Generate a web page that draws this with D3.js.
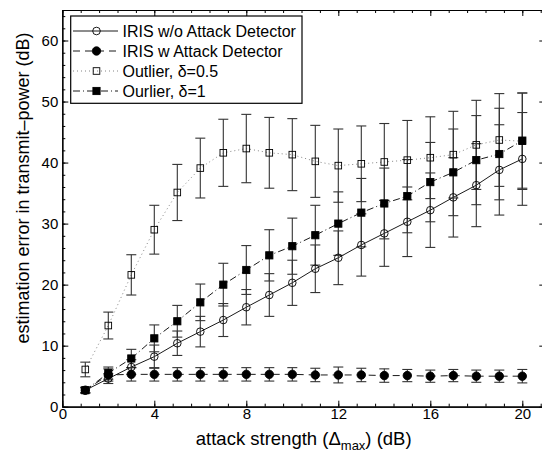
<!DOCTYPE html>
<html>
<head>
<meta charset="utf-8">
<script src="https://cdn.jsdelivr.net/npm/d3@7"></script>
<style>
  body { margin: 0; background: #fff; }
  svg { display: block; font-family: "Liberation Sans", Arial, Helvetica, sans-serif; }
</style>
</head>
<body>
<svg width="542" height="458"></svg>
<script>
// attack strength values (dB)
var strength = [1, 2, 3, 4, 5, 6, 7, 8, 9, 10, 11, 12, 13, 14, 15, 16, 17, 18, 19, 20];

// IRIS without attack detector
var irisNoDet = [2.7, 4.6, 6.5, 8.2, 10.4, 12.3, 14.2, 16.3, 18.3, 20.3, 22.6, 24.4, 26.5, 28.4, 30.3, 32.2, 34.3, 36.3, 38.8, 40.6];
var irisNoDetErr = [0.5, 0.8, 1.2, 1.9, 2.0, 2.5, 2.7, 2.9, 3.5, 3.7, 3.9, 4.4, 5.1, 5.4, 5.7, 6.1, 6.5, 6.8, 7.4, 7.6];

// IRIS with attack detector
var irisDet = [2.7, 5.2, 5.3, 5.3, 5.3, 5.3, 5.3, 5.3, 5.3, 5.3, 5.2, 5.2, 5.2, 5.1, 5.1, 5.0, 5.1, 5.0, 5.0, 5.0];
var irisDetErr = [0.4, 1.0, 1.1, 1.1, 1.1, 1.1, 1.1, 1.1, 1.1, 1.1, 1.1, 1.3, 1.1, 1.1, 1.0, 1.0, 1.0, 1.0, 1.0, 1.1];

// outlier, delta = 0.5
var outlierHalf = [6.1, 13.3, 21.6, 29.0, 35.1, 39.1, 41.6, 42.3, 41.6, 41.3, 40.2, 39.5, 39.8, 40.1, 40.4, 40.8, 41.3, 42.9, 43.7, 43.5];
var outlierHalfErr = [1.2, 2.2, 3.3, 4.0, 4.6, 4.9, 5.5, 5.6, 5.8, 5.9, 5.9, 6.0, 6.2, 6.3, 6.5, 6.7, 7.1, 7.3, 7.6, 7.9];

// outlier, delta = 1
var outlierOne = [2.7, 5.5, 7.9, 11.2, 14.0, 17.1, 20.0, 22.4, 24.8, 26.3, 28.1, 30.0, 31.8, 33.3, 34.5, 36.8, 38.4, 40.4, 41.4, 43.6];
var outlierOneErr = [0.4, 1.0, 1.5, 2.2, 2.6, 3.0, 3.5, 4.0, 4.2, 4.6, 4.9, 5.2, 5.6, 5.8, 6.0, 6.5, 7.1, 7.3, 7.5, 7.8];

var xMajor = [0, 4, 8, 12, 16, 20];
var yMajor = [0, 10, 20, 30, 40, 50, 60];

var svg = d3.select("svg"),
    pLeft = 62.3, pRight = 545.3, pTop = 10, pBottom = 406.7;

var x = d3.scaleLinear().domain([0, 21]).range([pLeft, pRight]);
var y = d3.scaleLinear().domain([0, 65]).range([pBottom, pTop]);

var xMinor = d3.range(0, 21, 0.8), yMinor = d3.range(0, 65, 2);

var series = [
  { name: "IRIS w/o Attack Detector", v: irisNoDet, e: irisNoDetErr, dash: null, lc: "#000", marker: "circle", fill: "none" },
  { name: "IRIS w Attack Detector", v: irisDet, e: irisDetErr, dash: "7,5", lc: "#000", marker: "circle", fill: "#000" },
  { name: "Outlier, \u03b4=0.5", v: outlierHalf, e: outlierHalfErr, dash: "1,3", lc: "#777", marker: "square", fill: "none" },
  { name: "Ourlier, \u03b4=1", v: outlierOne, e: outlierOneErr, dash: "7,3,1,3", lc: "#000", marker: "square", fill: "#000" }
];

// axes box with inward ticks
function axis(gen, ticks, size, fmt) {
  return gen.tickValues(ticks).tickSizeInner(-size).tickSizeOuter(0).tickFormat(fmt);
}
var none = function() { return ""; };

svg.append("g").attr("transform", "translate(0," + pBottom + ")").call(axis(d3.axisBottom(x), xMinor, 3, none));
svg.append("g").attr("transform", "translate(0," + pBottom + ")").call(axis(d3.axisBottom(x), xMajor, 6, d3.format("d")).tickPadding(2));
svg.append("g").attr("transform", "translate(0," + pTop + ")").call(axis(d3.axisTop(x), xMinor, 3, none));
svg.append("g").attr("transform", "translate(0," + pTop + ")").call(axis(d3.axisTop(x), xMajor, 6, none));
svg.append("g").attr("transform", "translate(" + pLeft + ",0)").call(axis(d3.axisLeft(y), yMinor, 3, none));
svg.append("g").attr("transform", "translate(" + pLeft + ",0)").call(axis(d3.axisLeft(y), yMajor, 6, d3.format("d")).tickPadding(4));
svg.append("g").attr("transform", "translate(" + pRight + ",0)").call(axis(d3.axisRight(y), yMinor, 3, none));
svg.append("g").attr("transform", "translate(" + pRight + ",0)").call(axis(d3.axisRight(y), yMajor, 6, none));

svg.selectAll(".domain").attr("stroke", "#000").attr("stroke-width", 1.2);
svg.selectAll(".tick line").attr("stroke", "#000");
svg.selectAll(".tick text").attr("font-size", 15).attr("fill", "#000").attr("font-family", "Liberation Sans, Arial, sans-serif");

var plot = svg.append("g");

var line = d3.line().x(function(d, i) { return x(strength[i]); }).y(function(d) { return y(d); });

series.forEach(function(s) {
  plot.append("path")
    .attr("d", line(s.v))
    .attr("fill", "none")
    .attr("stroke", s.lc)
    .attr("stroke-width", 0.9)
    .attr("stroke-dasharray", s.dash);
});

// error bars
series.forEach(function(s) {
  var g = plot.append("g").attr("stroke", "#333").attr("stroke-width", 1.1);
  s.v.forEach(function(v, i) {
    var cx = x(strength[i]), y0 = y(v - s.e[i]), y1 = y(v + s.e[i]);
    g.append("line").attr("x1", cx).attr("x2", cx).attr("y1", y0).attr("y2", y1);
    g.append("line").attr("x1", cx - 5).attr("x2", cx + 5).attr("y1", y0).attr("y2", y0);
    g.append("line").attr("x1", cx - 5).attr("x2", cx + 5).attr("y1", y1).attr("y2", y1);
  });
});

function drawMarker(g, s, cx, cy) {
  if (s.marker === "circle") {
    g.append("circle").attr("cx", cx).attr("cy", cy).attr("r", s.fill === "none" ? 3.8 : 4.2)
      .attr("fill", s.fill).attr("stroke", "#000").attr("stroke-width", 0.9);
  } else {
    var h = s.fill === "none" ? 3.3 : 3.6;
    g.append("rect").attr("x", cx - h).attr("y", cy - h).attr("width", 2 * h).attr("height", 2 * h)
      .attr("fill", s.fill).attr("stroke", "#000").attr("stroke-width", 0.9);
  }
}

series.forEach(function(s) {
  var g = plot.append("g");
  s.v.forEach(function(v, i) { drawMarker(g, s, x(strength[i]), y(v)); });
});

// legend
var lg = svg.append("g");
lg.append("rect").attr("x", 70.7).attr("y", 16).attr("width", 231.3).attr("height", 87.3)
  .attr("fill", "#fff").attr("stroke", "#000").attr("stroke-width", 1.2);
series.forEach(function(s, i) {
  var ry = 31 + i * 20;
  lg.append("line").attr("x1", 73).attr("x2", 118).attr("y1", ry).attr("y2", ry)
    .attr("stroke", s.lc).attr("stroke-width", 0.9).attr("stroke-dasharray", s.dash);
  drawMarker(lg, s, 96.5, ry);
  lg.append("text").attr("x", 122.5).attr("y", ry + 6).attr("font-size", 16).text(s.name);
});

// axis labels
var xl = svg.append("text").attr("x", 303.7).attr("y", 445).attr("text-anchor", "middle").attr("font-size", 18.5);
xl.append("tspan").text("attack strength (\u0394");
xl.append("tspan").attr("font-size", 13).attr("dy", 5).text("max");
xl.append("tspan").attr("dy", -5).text(") (dB)");

svg.append("text").attr("transform", "translate(29,188) rotate(-90)")
  .attr("text-anchor", "middle").attr("font-size", 18)
  .text("estimation error in transmit\u2013power (dB)");
</script>
</body>
</html>
